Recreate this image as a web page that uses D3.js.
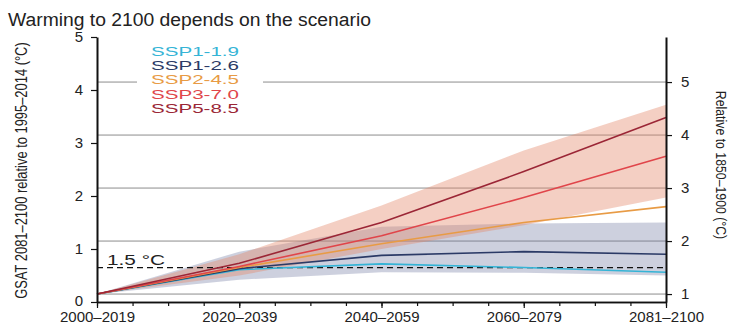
<!DOCTYPE html>
<html>
<head>
<meta charset="utf-8">
<script src="https://cdn.jsdelivr.net/npm/d3@7"></script>
<style>
body { margin: 0; background: #fff; }
svg { font-family: "Liberation Sans", Arial, sans-serif; }
</style>
</head>
<body>
<svg id="myGraph" width="745" height="324"></svg>
<script>
// data (GSAT relative to 1995-2014, °C)
var years = [2010, 2030, 2050, 2070, 2090];
var periodLabels = ["2000–2019", "2020–2039", "2040–2059", "2060–2079", "2081–2100"];
var scenarios = ["SSP1-1.9", "SSP1-2.6", "SSP2-4.5", "SSP3-7.0", "SSP5-8.5"];
var ssp119 = [0.15, 0.61, 0.72, 0.65, 0.56];
var ssp126 = [0.15, 0.63, 0.88, 0.95, 0.90];
var ssp245 = [0.15, 0.65, 1.10, 1.50, 1.80];
var ssp370 = [0.15, 0.67, 1.25, 1.97, 2.75];
var ssp585 = [0.15, 0.73, 1.50, 2.46, 3.48];
var lowBandMin = [0.15, 0.42, 0.56, 0.55, 0.50];
var lowBandMax = [0.15, 0.95, 1.42, 1.48, 1.50];
var highBandMin = [0.15, 0.50, 1.00, 1.45, 1.97];
var highBandMax = [0.15, 0.90, 1.82, 2.86, 3.72];
var leftTicks = [0, 1, 2, 3, 4, 5];
var rightTicks = [1, 2, 3, 4, 5];
var offset1850 = 0.85;   // 1995-2014 minus 1850-1900
var limit15 = 1.5;       // °C relative to 1850-1900

var colors = ["#35b4d6", "#2b3a66", "#e89b45", "#e0454a", "#9b2636"];
var series = [ssp119, ssp126, ssp245, ssp370, ssp585];

var plotLeft = 97, plotRight = 666, plotTop = 37, plotBottom = 302;

var svg = d3.select("#myGraph");

var x = d3.scaleLinear().domain([2010, 2090]).range([plotLeft, plotRight]);
var yL = d3.scaleLinear().domain([0, 5]).range([plotBottom, plotTop]);
var yR = d3.scaleLinear().domain([offset1850, 5 + offset1850]).range([plotBottom, plotTop]);

// title
svg.append("text")
    .attr("x", 8).attr("y", 26)
    .attr("font-size", 18)
    .attr("textLength", 363).attr("lengthAdjust", "spacingAndGlyphs")
    .attr("fill", "#222")
    .text("Warming to 2100 depends on the scenario");

// grid (on right axis ticks)
svg.append("g").selectAll("line")
    .data(rightTicks)
    .enter().append("line")
    .attr("x1", plotLeft).attr("x2", plotRight)
    .attr("y1", d => yR(d)).attr("y2", d => yR(d))
    .attr("stroke", "#8c8c8c").attr("stroke-width", 1);

// bands
function band(lo, hi) {
    return d3.area()
        .x((d, i) => x(years[i]))
        .y0((d, i) => yL(lo[i]))
        .y1((d, i) => yL(hi[i]))(years);
}
svg.append("path").attr("d", band(lowBandMin, lowBandMax))
    .attr("fill", "rgb(112,121,161)").attr("fill-opacity", 0.35);
svg.append("path").attr("d", band(highBandMin, highBandMax))
    .attr("fill", "rgb(228,135,105)").attr("fill-opacity", 0.4);

// 1.5 °C line
svg.append("line")
    .attr("x1", plotLeft).attr("x2", plotRight)
    .attr("y1", yR(limit15)).attr("y2", yR(limit15))
    .attr("stroke", "#111").attr("stroke-width", 1.2)
    .attr("stroke-dasharray", "6,4");
svg.append("text")
    .attr("x", 107).attr("y", yR(limit15) - 3)
    .attr("font-size", 14)
    .attr("textLength", 58).attr("lengthAdjust", "spacingAndGlyphs")
    .attr("fill", "#222")
    .text("1.5 °C");

// scenario lines
var line = d3.line()
    .x((d, i) => x(years[i]))
    .y(d => yL(d));
svg.append("g").selectAll("path")
    .data(series)
    .enter().append("path")
    .attr("d", d => line(d))
    .attr("fill", "none")
    .attr("stroke", (d, i) => colors[i])
    .attr("stroke-width", 1.6);

// axes
var xMinor = d3.axisBottom(x).tickValues(d3.range(2010, 2091, 5))
    .tickSize(4).tickSizeOuter(0).tickFormat("");
var xMajor = d3.axisBottom(x).tickValues(years)
    .tickSize(6).tickSizeOuter(0).tickPadding(3)
    .tickFormat((d, i) => periodLabels[i]);
var gxm = svg.append("g").attr("transform", "translate(0," + plotBottom + ")").call(xMinor);
var gx = svg.append("g").attr("transform", "translate(0," + plotBottom + ")").call(xMajor);
gx.selectAll("text").attr("font-size", 15).attr("fill", "#222");

var gl = svg.append("g").attr("transform", "translate(" + plotLeft + ",0)")
    .call(d3.axisLeft(yL).tickValues(leftTicks).tickSize(6).tickSizeOuter(0)
        .tickPadding(8).tickFormat(d3.format("d")));
gl.selectAll("text").attr("font-size", 15).attr("fill", "#222");
gl.selectAll(".tick text").filter(d => d === 0).attr("dy", "0.2em");

var gr = svg.append("g").attr("transform", "translate(" + plotRight + ",0)")
    .call(d3.axisRight(yR).tickValues(rightTicks).tickSize(6).tickSizeOuter(0)
        .tickPadding(9).tickFormat(d3.format("d")));
gr.selectAll("text").attr("font-size", 15).attr("fill", "#222");

svg.selectAll(".domain").attr("stroke", "#111").attr("stroke-width", 2);
gxm.select(".domain").attr("stroke-width", 1.5);
gx.select(".domain").attr("stroke-width", 1.5);
svg.selectAll(".tick line").attr("stroke", "#111").attr("stroke-width", 1.2);

// axis titles (condensed look)
svg.append("text")
    .attr("transform", "translate(27," + ((plotTop + plotBottom) / 2 + 1) + ") rotate(-90) scale(0.76,1)")
    .attr("text-anchor", "middle")
    .attr("font-size", 17)
    .attr("fill", "#222")
    .text("GSAT 2081–2100 relative to 1995–2014 (°C)");
svg.append("text")
    .attr("transform", "translate(716,165) rotate(90) scale(0.82,1)")
    .attr("text-anchor", "middle")
    .attr("font-size", 15)
    .attr("fill", "#222")
    .text("Relative to 1850–1900 (°C)");

// legend
var legend = svg.append("g");
legend.append("rect")
    .attr("x", 137).attr("y", 40).attr("width", 126).attr("height", 76)
    .attr("fill", "#fff");
legend.selectAll("text")
    .data(scenarios)
    .enter().append("text")
    .attr("x", 151)
    .attr("y", (d, i) => 55.5 + i * 14.4)
    .attr("font-size", 13.5)
    .attr("textLength", 88).attr("lengthAdjust", "spacingAndGlyphs")
    .attr("fill", (d, i) => colors[i])
    .text(d => d);
</script>
</body>
</html>
